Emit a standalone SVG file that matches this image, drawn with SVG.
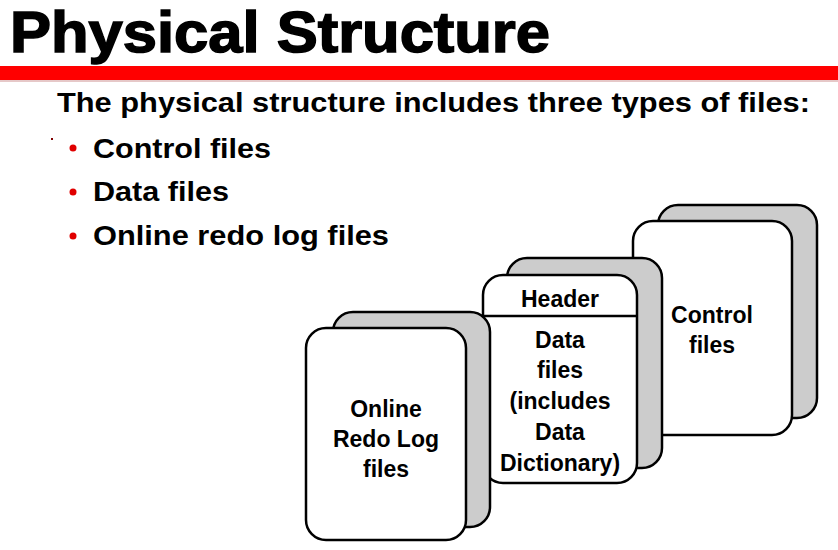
<svg xmlns="http://www.w3.org/2000/svg" width="838" height="550" viewBox="0 0 838 550">
<style>
.t{font-family:"Liberation Sans",Arial,sans-serif;font-weight:bold;fill:#000}
.lbl{font-family:"Liberation Sans",Arial,sans-serif;font-weight:bold;font-size:23px;fill:#000;text-anchor:middle}
.back{fill:#cccccc;stroke:#000;stroke-width:2.5}
.front{fill:#fff;stroke:#000;stroke-width:2.5}
.dot{fill:#e00000}
</style>
<rect x="0" y="0" width="838" height="550" fill="#fff"/>
<text class="t" x="10" y="52" font-size="57" stroke="#000" stroke-width="1.5" textLength="540" lengthAdjust="spacingAndGlyphs">Physical Structure</text>
<rect x="0" y="66" width="838" height="14" fill="#ff0000"/>
<rect x="0" y="80" width="838" height="2" fill="#e6c8c8"/>
<text class="t" x="57" y="112" font-size="28" textLength="753" lengthAdjust="spacingAndGlyphs">The physical structure includes three types of files:</text>
<rect x="51" y="138" width="2" height="2" fill="#800000"/>
<circle class="dot" cx="73" cy="148" r="3.5"/>
<circle class="dot" cx="73" cy="192" r="3.5"/>
<circle class="dot" cx="73" cy="236" r="3.5"/>
<text class="t" x="93" y="158" font-size="28" textLength="178" lengthAdjust="spacingAndGlyphs">Control files</text>
<text class="t" x="93" y="201" font-size="28" textLength="136" lengthAdjust="spacingAndGlyphs">Data files</text>
<text class="t" x="93" y="245" font-size="28" textLength="296" lengthAdjust="spacingAndGlyphs">Online redo log files</text>
<g id="control-files">
<rect class="back" x="658" y="205" width="159" height="213" rx="20"/>
<rect class="front" x="633" y="221" width="159" height="214" rx="20"/>
<text class="lbl" x="712" y="323">Control</text>
<text class="lbl" x="712" y="353">files</text>
</g>
<g id="data-files">
<rect class="back" x="507" y="258" width="155" height="210" rx="20"/>
<rect class="front" x="483" y="275" width="154" height="208" rx="20"/>
<line x1="483" y1="316" x2="637" y2="316" stroke="#000" stroke-width="2.5"/>
<text class="lbl" x="560" y="307">Header</text>
<text class="lbl" x="560" y="348">Data</text>
<text class="lbl" x="560" y="378">files</text>
<text class="lbl" x="560" y="409">(includes</text>
<text class="lbl" x="560" y="440">Data</text>
<text class="lbl" x="560" y="471">Dictionary)</text>
</g>
<g id="online-redo-log-files">
<rect class="back" x="333" y="312" width="157" height="215" rx="20"/>
<rect class="front" x="306" y="328" width="160" height="212" rx="20"/>
<text class="lbl" x="386" y="417">Online</text>
<text class="lbl" x="386" y="447">Redo Log</text>
<text class="lbl" x="386" y="477">files</text>
</g>
<g id="connectors"/>
</svg>
